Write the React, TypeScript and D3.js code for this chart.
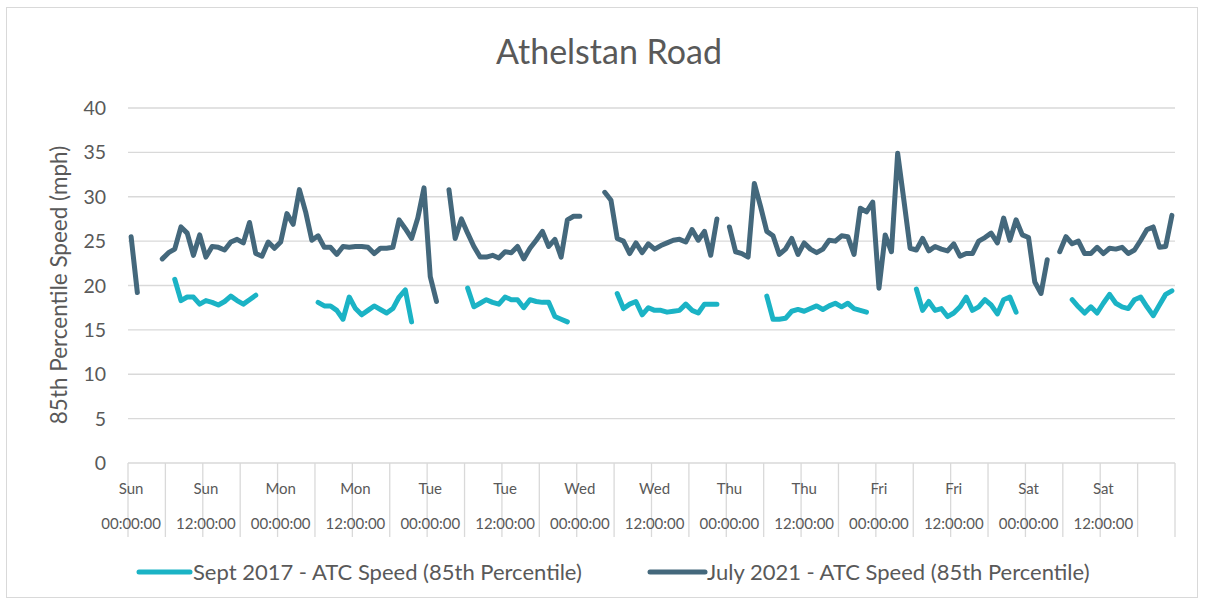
import React, { useEffect, useRef } from "react";
import * as d3 from "d3";

// hourly 85th percentile speeds, Sun 00:00 -> Sat 23:00 (null = no data)
const sept2017: (number | null)[] = [
  null, null, null, null, null, null, null, 20.7, 18.3, 18.7, 18.7, 17.9, 18.3, 18.1, 17.8, 18.2, 18.8, 18.3, 17.9, 18.4, 18.9, null, null, null,
  null, null, null, null, null, null, 18.1, 17.7, 17.7, 17.2, 16.2, 18.7, 17.4, 16.7, 17.2, 17.7, 17.3, 16.9, 17.4, 18.7, 19.5, 15.9, null, null,
  null, null, null, null, null, null, 19.7, 17.6, 18.0, 18.4, 18.1, 17.9, 18.7, 18.4, 18.4, 17.5, 18.4, 18.2, 18.1, 18.1, 16.5, 16.2, 15.9, null,
  null, null, null, null, null, null, 19.1, 17.4, 17.9, 18.2, 16.7, 17.5, 17.2, 17.2, 17.0, 17.1, 17.2, 17.9, 17.2, 16.9, 17.9, 17.9, 17.9, null,
  null, null, null, null, null, null, 18.8, 16.2, 16.2, 16.3, 17.1, 17.3, 17.1, 17.4, 17.7, 17.3, 17.7, 18.0, 17.6, 18.0, 17.4, 17.2, 17.0, null,
  null, null, null, null, null, null, 19.6, 17.2, 18.2, 17.2, 17.4, 16.5, 16.9, 17.6, 18.7, 17.2, 17.6, 18.4, 17.8, 16.8, 18.4, 18.7, 17.0, null,
  null, null, null, null, null, null, null, 18.4, 17.6, 16.9, 17.6, 16.9, 18.0, 19.0, 18.0, 17.6, 17.4, 18.4, 18.7, 17.6, 16.6, 17.8, 19.0, 19.4,
];

const july2021: (number | null)[] = [
  25.5, 19.2, null, null, null, 23.0, 23.7, 24.1, 26.6, 25.9, 23.4, 25.7, 23.2, 24.4, 24.3, 24.0, 24.9, 25.2, 24.8, 27.1, 23.6, 23.3, 24.9, 24.2,
  24.9, 28.1, 26.9, 30.8, 28.3, 25.1, 25.6, 24.3, 24.3, 23.5, 24.4, 24.3, 24.4, 24.4, 24.3, 23.6, 24.2, 24.2, 24.3, 27.4, 26.4, 25.3, 27.6, 31.0,
  21.0, 18.2, null, 30.8, 25.3, 27.5, 25.9, 24.4, 23.2, 23.2, 23.4, 23.1, 23.8, 23.7, 24.4, 23.0, 24.2, 25.1, 26.1, 24.4, 25.2, 23.2, 27.4, 27.8,
  27.8, null, null, null, 30.5, 29.6, 25.3, 25.0, 23.6, 24.8, 23.7, 24.7, 24.1, 24.5, 24.8, 25.1, 25.2, 24.9, 26.3, 25.1, 26.1, 23.4, 27.5, null,
  26.6, 23.8, 23.6, 23.2, 31.5, 28.9, 26.1, 25.6, 23.5, 24.1, 25.3, 23.5, 24.8, 24.1, 23.7, 24.1, 25.1, 25.0, 25.6, 25.5, 23.5, 28.7, 28.3, 29.4,
  19.7, 25.7, 23.8, 34.9, 29.6, 24.2, 24.0, 25.3, 23.9, 24.4, 24.1, 23.9, 24.7, 23.3, 23.6, 23.6, 25.0, 25.4, 25.9, 24.8, 27.6, 25.1, 27.4, 25.7,
  25.4, 20.4, 19.1, 22.9, null, 23.8, 25.5, 24.7, 25.0, 23.6, 23.6, 24.3, 23.6, 24.2, 24.1, 24.3, 23.6, 24.0, 25.1, 26.3, 26.6, 24.3, 24.4, 27.9,
];

const tickDays = ["Sun", "Sun", "Mon", "Mon", "Tue", "Tue", "Wed", "Wed", "Thu", "Thu", "Fri", "Fri", "Sat", "Sat"];
const tickTimes = ["00:00:00", "12:00:00"];
const yTicks = [0, 5, 10, 15, 20, 25, 30, 35, 40];

const seriesNames = ["Sept 2017 - ATC Speed (85th Percentile)", "July 2021 - ATC Speed (85th Percentile)"];
const colors = ["#1bb3c5", "#44687c"];

const W = 1205, H = 603;
const FONT = "Lato, 'Open Sans', sans-serif";
const TXT = "#595959";

export default function App() {
  const ref = useRef<SVGSVGElement>(null);

  useEffect(() => {
    const svg = d3.select(ref.current);
    svg.selectAll("*").remove();

    const hours = d3.range(sept2017.length);
    const x = d3.scaleBand<number>().domain(hours).range([128, 1175]);
    const y = d3.scaleLinear().domain([0, 40]).range([463, 108]);
    const bw = x.bandwidth();
    const cx = (i: number) => (x(i) as number) + bw / 2;

    // chart frame
    svg.append("rect")
      .attr("x", 6.5).attr("y", 7.5)
      .attr("width", 1191).attr("height", 590)
      .attr("fill", "white").attr("stroke", "#d9d9d9");

    svg.append("text")
      .attr("x", 609).attr("y", 64)
      .attr("text-anchor", "middle")
      .style("font-family", FONT).style("font-size", "34px").style("fill", TXT)
      .text("Athelstan Road");

    // gridlines + y labels
    svg.append("g").selectAll("line").data(yTicks).join("line")
      .attr("x1", 128).attr("x2", 1175)
      .attr("y1", d => y(d)).attr("y2", d => y(d))
      .attr("stroke", "#d9d9d9").attr("stroke-width", 1.3);

    svg.append("g").selectAll("text").data(yTicks).join("text")
      .attr("x", 106).attr("y", d => y(d)).attr("dy", "0.36em")
      .attr("text-anchor", "end")
      .style("font-family", FONT).style("font-size", "19.5px").style("fill", TXT)
      .text(d => d);

    svg.append("text")
      .attr("transform", "translate(67,285) rotate(-90)")
      .attr("text-anchor", "middle")
      .style("font-family", FONT).style("font-size", "22.5px").style("fill", TXT)
      .text("85th Percentile Speed (mph)");

    // x tick marks every 6 hours
    const tickPos = d3.range(0, hours.length + 1, 6).map(i => 128 + i * bw);
    svg.append("g").selectAll("line").data(tickPos).join("line")
      .attr("x1", d => d).attr("x2", d => d)
      .attr("y1", 463).attr("y2", 537)
      .attr("stroke", "#d9d9d9").attr("stroke-width", 1.3);

    const labelIdx = d3.range(0, hours.length, 12);
    const lg = svg.append("g")
      .style("font-family", FONT).style("font-size", "15px").style("fill", TXT)
      .attr("text-anchor", "middle");
    lg.selectAll(".day").data(labelIdx).join("text")
      .attr("class", "day")
      .attr("x", d => cx(d)).attr("y", 494)
      .text((d, k) => tickDays[k]);
    lg.selectAll(".time").data(labelIdx).join("text")
      .attr("class", "time")
      .attr("x", d => cx(d)).attr("y", 529)
      .text((d, k) => tickTimes[k % 2]);

    // series
    const line = d3.line<number | null>()
      .defined(d => d != null)
      .x((d, i) => cx(i))
      .y(d => y(d as number));

    [sept2017, july2021].forEach((s, k) => {
      svg.append("path")
        .datum(s)
        .attr("d", line)
        .attr("fill", "none")
        .attr("stroke", colors[k])
        .attr("stroke-width", 5)
        .attr("stroke-linejoin", "round")
        .attr("stroke-linecap", "round");
    });

    // legend
    const legendX = [[139, 190, 193], [650, 705, 707]];
    seriesNames.forEach((name, k) => {
      const [x1, x2, tx] = legendX[k];
      svg.append("line")
        .attr("x1", x1).attr("x2", x2).attr("y1", 572).attr("y2", 572)
        .attr("stroke", colors[k]).attr("stroke-width", 5).attr("stroke-linecap", "round");
      svg.append("text")
        .attr("x", tx).attr("y", 580)
        .style("font-family", FONT).style("font-size", "22px").style("fill", TXT)
        .text(name);
    });
  }, []);

  return (
    <svg ref={ref} width={W} height={H}
      style={{ position: "absolute", left: 0, top: 0, display: "block" }} />
  );
}
